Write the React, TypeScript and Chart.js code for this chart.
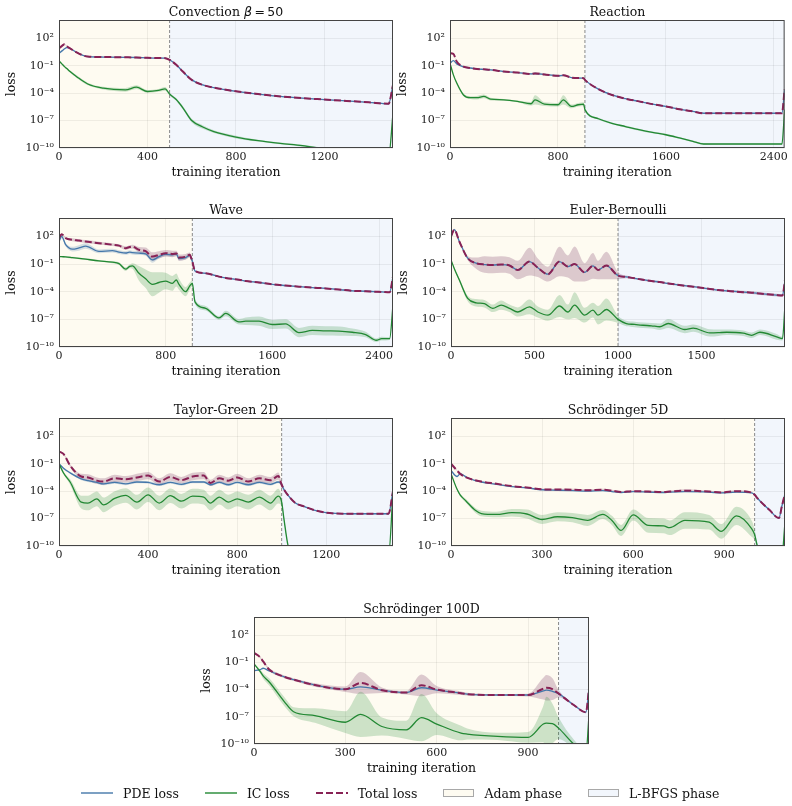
import React, { useEffect, useRef } from 'react';
import { Chart, registerables } from 'chart.js';
Chart.register(...registerables);

const SERIF = "'DejaVu Serif', 'Liberation Serif', serif";
const SANS = "'DejaVu Sans', 'Noto Sans', sans-serif";

// ---------------- data (log10 of loss) ----------------
const convIter = [0, 15, 25, 35, 50, 80, 130, 200, 300, 350, 400, 450, 480, 500, 530, 560, 600, 650, 700, 800, 900, 1000, 1100, 1200, 1300, 1400, 1490, 1510];
const convTotal = [0.9, 1.2, 1.35, 1.15, 0.9, 0.45, 0.0, -0.05, -0.08, -0.1, -0.14, -0.16, -0.17, -0.35, -0.9, -1.64, -2.55, -3.1, -3.4, -3.8, -4.1, -4.36, -4.55, -4.7, -4.85, -5.0, -5.16, -3.1];
const convPde = [0.36, 0.65, 0.85, 0.98, 0.88, 0.45, 0.0, -0.05, -0.08, -0.1, -0.14, -0.16, -0.17, -0.35, -0.9, -1.64, -2.55, -3.1, -3.4, -3.8, -4.1, -4.36, -4.55, -4.7, -4.85, -5.0, -5.16, -3.1];
const convIc = [-0.47, -0.85, -1.1, -1.3, -1.64, -2.2, -3.0, -3.45, -3.64, -3.35, -3.82, -3.7, -3.53, -4.1, -4.7, -5.6, -7.0, -7.7, -8.2, -8.8, -9.2, -9.5, -9.75, -10.1, -10.4, -10.7, -11.0, -6.2];
const convTotalSpread = [0.05, 0.05, 0.05, 0.05, 0.05, 0.05, 0.05, 0.05, 0.05, 0.05, 0.05, 0.05, 0.05, 0.05, 0.05, 0.05, 0.05, 0.05, 0.05, 0.05, 0.05, 0.05, 0.05, 0.05, 0.05, 0.05, 0.05, 0.05];
const convIcSpread = [0.05, 0.08, 0.1, 0.1, 0.12, 0.15, 0.15, 0.15, 0.2, 0.2, 0.15, 0.15, 0.2, 0.15, 0.15, 0.2, 0.2, 0.2, 0.15, 0.15, 0.1, 0.1, 0.1, 0.1, 0.1, 0.1, 0.1, 0.1];

const reacIter = [0, 25, 50, 100, 150, 200, 250, 300, 400, 500, 600, 630, 700, 800, 840, 900, 950, 990, 1000, 1100, 1200, 1300, 1400, 1500, 1600, 1700, 1800, 1880, 2000, 2200, 2460, 2480];
const reacTotal = [0.36, 0.29, -0.55, -1.1, -1.25, -1.35, -1.4, -1.45, -1.64, -1.75, -1.9, -1.85, -1.95, -2.1, -2.05, -2.3, -2.35, -2.36, -2.55, -3.56, -4.2, -4.6, -4.9, -5.2, -5.45, -5.75, -6.0, -6.2, -6.2, -6.2, -6.2, -3.6];
const reacPde = [-0.73, -0.45, -0.8, -1.12, -1.25, -1.35, -1.4, -1.45, -1.64, -1.75, -1.9, -1.85, -1.95, -2.1, -2.05, -2.3, -2.35, -2.36, -2.55, -3.56, -4.2, -4.6, -4.9, -5.2, -5.45, -5.75, -6.0, -6.2, -6.2, -6.2, -6.2, -3.6];
const reacIc = [-0.73, -2.0, -2.9, -4.2, -4.5, -4.5, -4.36, -4.65, -4.73, -4.9, -5.16, -4.73, -5.2, -5.27, -4.73, -5.45, -5.27, -5.2, -5.8, -6.8, -7.3, -7.65, -8.0, -8.3, -8.55, -8.9, -9.27, -9.56, -9.56, -9.56, -9.56, -5.8];
const reacTotalSpread = [0.05, 0.05, 0.05, 0.05, 0.05, 0.05, 0.05, 0.05, 0.05, 0.05, 0.08, 0.15, 0.08, 0.08, 0.1, 0.06, 0.06, 0.05, 0.05, 0.05, 0.05, 0.05, 0.05, 0.05, 0.05, 0.05, 0.05, 0.05, 0.05, 0.05, 0.05, 0.05];
const reacIcSpread = [0.05, 0.1, 0.15, 0.15, 0.15, 0.2, 0.2, 0.15, 0.1, 0.1, 0.2, 0.5, 0.2, 0.2, 0.5, 0.2, 0.2, 0.2, 0.15, 0.1, 0.1, 0.1, 0.1, 0.1, 0.1, 0.1, 0.1, 0.1, 0.05, 0.05, 0.05, 0.05];

const waveIter = [0, 20, 50, 100, 150, 200, 300, 400, 450, 500, 530, 550, 600, 650, 700, 750, 800, 850, 880, 900, 950, 980, 1000, 1020, 1100, 1200, 1250, 1350, 1400, 1500, 1600, 1700, 1800, 1900, 2000, 2100, 2200, 2300, 2380, 2420, 2480, 2505];
const waveTotal = [1.82, 2.25, 1.82, 1.64, 1.55, 1.45, 1.27, 1.1, 1.0, 0.73, 0.85, 0.9, 0.55, 0.4, -0.18, 0.0, 0.18, 0.1, 0.15, -0.3, -0.2, 0.0, -0.73, -1.75, -2.0, -2.36, -2.5, -2.7, -2.84, -3.0, -3.2, -3.33, -3.45, -3.55, -3.64, -3.77, -3.9, -3.95, -4.0, -4.02, -4.07, -2.36];
const wavePde = [1.45, 2.0, 1.1, 0.62, 0.75, 0.95, 0.38, 0.45, 0.3, 0.2, 0.3, 0.25, 0.18, 0.1, -0.55, -0.2, 0.05, 0.0, 0.1, -0.4, -0.3, -0.05, -0.73, -1.75, -2.0, -2.36, -2.5, -2.7, -2.84, -3.0, -3.2, -3.33, -3.45, -3.55, -3.64, -3.77, -3.9, -3.95, -4.0, -4.02, -4.07, -2.36];
const waveIc = [-0.18, -0.2, -0.22, -0.3, -0.38, -0.47, -0.65, -0.8, -0.95, -1.55, -1.25, -1.2, -2.0, -2.6, -3.2, -3.0, -2.84, -3.1, -2.73, -3.2, -4.0, -3.4, -3.1, -5.1, -5.8, -6.84, -6.36, -7.27, -7.2, -7.2, -7.56, -7.5, -8.44, -8.2, -8.25, -8.27, -8.4, -8.65, -9.27, -9.1, -9.1, -5.45];
const waveTotalSpread = [0.1, 0.1, 0.1, 0.15, 0.15, 0.15, 0.15, 0.15, 0.15, 0.2, 0.2, 0.2, 0.3, 0.4, 0.45, 0.4, 0.35, 0.35, 0.3, 0.35, 0.3, 0.25, 0.1, 0.05, 0.05, 0.05, 0.05, 0.05, 0.05, 0.05, 0.05, 0.05, 0.05, 0.05, 0.05, 0.05, 0.05, 0.05, 0.05, 0.05, 0.05, 0.05];
const wavePdeSpread = [0.1, 0.2, 0.2, 0.25, 0.3, 0.3, 0.2, 0.2, 0.2, 0.2, 0.2, 0.2, 0.2, 0.2, 0.3, 0.2, 0.2, 0.2, 0.2, 0.2, 0.2, 0.2, 0.1, 0.05, 0.05, 0.05, 0.05, 0.05, 0.05, 0.05, 0.05, 0.05, 0.05, 0.05, 0.05, 0.05, 0.05, 0.05, 0.05, 0.05, 0.05, 0.05];
const waveIcSpread = [0.05, 0.05, 0.1, 0.1, 0.1, 0.1, 0.1, 0.1, 0.15, 0.2, 0.2, 0.3, 0.8, 1.0, 1.3, 1.1, 0.9, 0.8, 0.7, 0.6, 0.5, 0.4, 0.3, 0.25, 0.25, 0.2, 0.3, 0.3, 0.4, 0.5, 0.5, 0.5, 0.5, 0.5, 0.5, 0.5, 0.4, 0.3, 0.2, 0.2, 0.15, 0.1];

const eulerIter = [0, 20, 50, 100, 150, 200, 250, 300, 350, 400, 470, 520, 580, 650, 700, 740, 800, 850, 880, 930, 1000, 1050, 1100, 1150, 1200, 1250, 1300, 1400, 1450, 1550, 1600, 1650, 1750, 1800, 1850, 1950, 1985, 2000];
const eulerTotal = [2.0, 2.73, 1.45, -0.36, -0.9, -1.05, -1.1, -1.05, -1.15, -1.64, -0.73, -1.4, -2.1, -0.73, -1.27, -1.0, -1.9, -1.2, -1.64, -1.16, -2.25, -2.4, -2.55, -2.7, -2.84, -2.95, -3.1, -3.35, -3.45, -3.7, -3.82, -3.9, -4.05, -4.1, -4.2, -4.36, -4.4, -2.73];
const eulerPde = [2.0, 2.73, 1.45, -0.36, -0.9, -1.05, -1.1, -1.05, -1.15, -1.64, -0.73, -1.4, -2.1, -0.73, -1.27, -1.0, -1.9, -1.2, -1.64, -1.16, -2.25, -2.4, -2.55, -2.7, -2.84, -2.95, -3.1, -3.35, -3.45, -3.7, -3.82, -3.9, -4.05, -4.1, -4.2, -4.36, -4.4, -2.73];
const eulerIc = [-0.55, -1.5, -2.73, -4.73, -5.2, -5.3, -5.8, -5.45, -5.8, -6.2, -5.64, -6.2, -6.55, -5.55, -6.2, -5.45, -6.55, -6.0, -6.55, -5.93, -7.0, -7.45, -7.55, -7.64, -7.7, -7.8, -7.45, -8.1, -7.95, -8.47, -8.45, -8.4, -8.5, -8.73, -8.4, -8.9, -9.1, -5.45];
const eulerTotalSpread = [0.05, 0.1, 0.1, 0.2, 0.6, 0.9, 0.9, 0.9, 0.9, 1.0, 1.5, 1.0, 0.8, 1.6, 1.2, 1.9, 1.0, 1.4, 1.0, 1.5, 0.4, 0.15, 0.1, 0.1, 0.1, 0.1, 0.1, 0.1, 0.1, 0.1, 0.1, 0.1, 0.15, 0.15, 0.15, 0.15, 0.15, 0.1];
const eulerIcSpread = [0.05, 0.1, 0.2, 0.3, 0.4, 0.4, 0.4, 0.5, 0.4, 0.5, 0.8, 0.6, 0.6, 1.2, 0.8, 1.4, 0.8, 0.8, 1.0, 1.2, 0.4, 0.3, 0.3, 0.3, 0.3, 0.35, 0.5, 0.4, 0.4, 0.4, 0.35, 0.3, 0.3, 0.3, 0.3, 0.3, 0.2, 0.1];

const tgIter = [0, 20, 50, 100, 130, 170, 200, 250, 300, 350, 400, 450, 500, 550, 600, 650, 680, 720, 760, 800, 850, 900, 950, 985, 1000, 1010, 1030, 1060, 1100, 1150, 1200, 1300, 1480, 1500];
const tgTotal = [0.33, 0.07, -1.2, -2.4, -2.5, -2.85, -2.95, -2.6, -2.7, -2.5, -2.3, -2.95, -2.45, -2.8, -2.4, -2.3, -3.1, -2.6, -2.85, -2.5, -2.95, -2.6, -2.8, -2.35, -3.3, -3.8, -4.5, -5.27, -5.67, -6.1, -6.36, -6.47, -6.47, -4.0];
const tgPde = [-1.0, -1.5, -2.0, -2.65, -2.85, -3.05, -3.2, -3.05, -3.2, -3.0, -3.05, -3.3, -3.05, -3.25, -3.0, -3.0, -3.3, -3.05, -3.3, -3.05, -3.3, -3.05, -3.25, -3.0, -3.3, -3.8, -4.5, -5.27, -5.67, -6.1, -6.36, -6.47, -6.47, -4.0];
const tgIc = [-1.0, -2.0, -3.0, -5.2, -5.3, -4.84, -5.5, -4.8, -4.47, -5.2, -4.4, -5.3, -4.5, -5.1, -4.55, -4.65, -5.3, -4.65, -5.2, -4.84, -5.2, -4.65, -5.3, -4.55, -5.2, -7.0, -10.1, -11, -11, -11, -11, -11, -11, -4.1];
const tgTotalSpread = [0.05, 0.1, 0.15, 0.3, 0.35, 0.35, 0.35, 0.4, 0.35, 0.4, 0.4, 0.35, 0.4, 0.35, 0.4, 0.4, 0.35, 0.4, 0.35, 0.4, 0.35, 0.4, 0.35, 0.4, 0.3, 0.1, 0.05, 0.05, 0.05, 0.05, 0.05, 0.05, 0.05, 0.05];
const tgPdeSpread = [0.05, 0.1, 0.1, 0.15, 0.15, 0.15, 0.15, 0.15, 0.15, 0.15, 0.15, 0.15, 0.15, 0.15, 0.15, 0.15, 0.15, 0.15, 0.15, 0.15, 0.15, 0.15, 0.15, 0.15, 0.1, 0.05, 0.05, 0.05, 0.05, 0.05, 0.05, 0.05, 0.05, 0.05];
const tgIcSpread = [0.05, 0.1, 0.3, 0.7, 0.8, 0.8, 0.8, 0.8, 0.8, 0.8, 0.8, 0.8, 0.8, 0.8, 0.8, 0.8, 0.8, 0.8, 0.8, 0.8, 0.8, 0.8, 0.8, 0.8, 0.5, 0.3, 0.1, 0.1, 0.1, 0.1, 0.1, 0.1, 0.1, 0.1];

const s5Iter = [0, 20, 30, 50, 80, 100, 150, 200, 250, 300, 350, 400, 450, 500, 530, 560, 600, 650, 700, 720, 770, 850, 890, 940, 990, 1000, 1010, 1050, 1080, 1090, 1100];
const s5Total = [-1.0, -1.75, -2.1, -2.5, -2.8, -2.95, -3.2, -3.45, -3.6, -3.8, -3.82, -3.85, -3.9, -3.85, -3.95, -4.1, -4.0, -4.05, -4.1, -4.05, -3.95, -4.05, -4.15, -4.0, -4.15, -4.4, -4.8, -6.1, -6.95, -5.6, -4.3];
const s5Pde = [-1.75, -2.4, -2.1, -2.45, -2.85, -3.0, -3.25, -3.5, -3.65, -3.85, -3.9, -3.95, -4.0, -3.95, -4.05, -4.15, -4.05, -4.1, -4.15, -4.1, -4.05, -4.1, -4.2, -4.1, -4.2, -4.4, -4.8, -6.1, -6.95, -5.6, -4.3];
const s5Ic = [-2.1, -3.8, -4.4, -5.1, -6.1, -6.45, -6.55, -6.36, -6.5, -7.1, -6.8, -6.9, -7.2, -6.55, -7.2, -8.3, -6.6, -7.75, -7.8, -8.0, -7.2, -7.4, -8.4, -6.7, -8.1, -8.76, -10.1, -11, -11, -11, -7.4];
const s5TotalSpread = [0.05, 0.05, 0.05, 0.05, 0.05, 0.05, 0.05, 0.05, 0.05, 0.08, 0.08, 0.1, 0.1, 0.1, 0.1, 0.1, 0.1, 0.1, 0.1, 0.1, 0.15, 0.1, 0.1, 0.1, 0.08, 0.05, 0.05, 0.05, 0.05, 0.05, 0.05];
const s5IcSpread = [0.05, 0.1, 0.15, 0.2, 0.25, 0.3, 0.3, 0.4, 0.5, 0.5, 0.5, 0.5, 0.6, 0.5, 0.5, 0.6, 0.6, 0.8, 0.8, 0.8, 0.9, 0.8, 0.8, 1.0, 0.9, 0.6, 0.3, 0.2, 0.2, 0.2, 0.2];

const s100Iter = [0, 20, 30, 50, 100, 130, 200, 300, 350, 420, 500, 550, 600, 680, 700, 800, 900, 950, 960, 980, 1000, 1050, 1090, 1100];
const s100Total = [0.04, -0.44, -0.9, -1.78, -2.6, -2.9, -3.5, -3.96, -3.27, -4.07, -4.33, -3.53, -4.0, -4.4, -4.5, -4.6, -4.6, -3.9, -3.8, -3.95, -4.44, -5.7, -6.5, -3.9];
const s100Pde = [-1.9, -1.8, -1.65, -1.95, -2.6, -2.9, -3.5, -3.96, -3.7, -4.07, -4.33, -3.8, -4.05, -4.4, -4.5, -4.6, -4.6, -4.15, -4.07, -4.2, -4.44, -5.7, -6.5, -3.9];
const s100Ic = [-1.16, -2.0, -2.5, -3.16, -5.35, -6.44, -6.87, -7.6, -6.73, -8.07, -8.44, -7.1, -7.8, -8.8, -8.9, -9.16, -9.27, -7.8, -7.7, -7.75, -8.25, -10.0, -11, -6.87];
const s100TotalSpread = [0.05, 0.1, 0.1, 0.15, 0.15, 0.15, 0.2, 0.3, 1.2, 0.3, 0.2, 1.2, 0.4, 0.2, 0.15, 0.1, 0.15, 1.2, 1.4, 1.2, 0.4, 0.1, 0.1, 0.1];
const s100IcSpread = [0.05, 0.2, 0.3, 0.4, 0.5, 0.5, 0.8, 1.2, 2.5, 1.0, 1.0, 2.6, 1.2, 0.8, 0.6, 0.4, 0.6, 2.0, 2.9, 2.2, 1.2, 0.5, 0.3, 0.3];

const yTicks = [1e-10, 1e-7, 1e-4, 1e-1, 1e2];
const ticks400 = [0, 400, 800, 1200];
const ticks800 = [0, 800, 1600, 2400];
const ticks500 = [0, 500, 1000, 1500];
const ticks300 = [0, 300, 600, 900];

// ---------------- styles ----------------
const C_PDE = '#4477AA';
const C_IC = '#228833';
const C_TOTAL = '#882255';
const B_PDE = 'rgba(68,119,170,0.22)';
const B_IC = 'rgba(34,136,51,0.22)';
const B_TOTAL = 'rgba(120,50,100,0.25)';
const ADAM_BG = '#FEFBF1';
const LBFGS_BG = '#F2F6FC';

const SUP: Record<string, string> = { '-': '\u207B', '0': '\u2070', '1': '\u00B9', '2': '\u00B2', '3': '\u00B3', '4': '\u2074', '5': '\u2075', '6': '\u2076', '7': '\u2077', '8': '\u2078', '9': '\u2079' };
function fmtPow(v: number) {
  const e = Math.round(Math.log10(v));
  return '10' + String(e).split('').map((c) => SUP[c] || c).join('');
}

type Seg = { text: string; italic?: boolean; sans?: boolean };
interface PanelDef {
  title: Seg[];
  iter: number[];
  pde: number[];
  ic: number[];
  total: number[];
  pdeSpread?: number[];
  icSpread: number[];
  totalSpread: number[];
  xMax: number;
  boundary: number;
  xTicks: number[];
  left: number;
  top: number;
  width: number;
  height: number;
}

const panels: PanelDef[] = [
  { title: [{ text: 'Convection ' }, { text: '\u03B2', italic: true, sans: true }, { text: '\u2009=\u200950', sans: true }], iter: convIter, pde: convPde, ic: convIc, total: convTotal, icSpread: convIcSpread, totalSpread: convTotalSpread, xMax: 1510, boundary: 500, xTicks: ticks400, left: 59, top: 20, width: 334, height: 128 },
  { title: [{ text: 'Reaction' }], iter: reacIter, pde: reacPde, ic: reacIc, total: reacTotal, icSpread: reacIcSpread, totalSpread: reacTotalSpread, xMax: 2480, boundary: 1000, xTicks: ticks800, left: 450, top: 20, width: 336, height: 128 },
  { title: [{ text: 'Wave' }], iter: waveIter, pde: wavePde, ic: waveIc, total: waveTotal, pdeSpread: wavePdeSpread, icSpread: waveIcSpread, totalSpread: waveTotalSpread, xMax: 2505, boundary: 1000, xTicks: ticks800, left: 59, top: 218, width: 334, height: 129 },
  { title: [{ text: 'Euler-Bernoulli' }], iter: eulerIter, pde: eulerPde, ic: eulerIc, total: eulerTotal, icSpread: eulerIcSpread, totalSpread: eulerTotalSpread, xMax: 2000, boundary: 1000, xTicks: ticks500, left: 451, top: 218, width: 334, height: 129 },
  { title: [{ text: 'Taylor-Green 2D' }], iter: tgIter, pde: tgPde, ic: tgIc, total: tgTotal, pdeSpread: tgPdeSpread, icSpread: tgIcSpread, totalSpread: tgTotalSpread, xMax: 1500, boundary: 1000, xTicks: ticks400, left: 59, top: 418, width: 334, height: 128 },
  { title: [{ text: 'Schr\u00F6dinger 5D' }], iter: s5Iter, pde: s5Pde, ic: s5Ic, total: s5Total, icSpread: s5IcSpread, totalSpread: s5TotalSpread, xMax: 1100, boundary: 1000, xTicks: ticks300, left: 451, top: 418, width: 334, height: 128 },
  { title: [{ text: 'Schr\u00F6dinger 100D' }], iter: s100Iter, pde: s100Pde, ic: s100Ic, total: s100Total, icSpread: s100IcSpread, totalSpread: s100TotalSpread, xMax: 1100, boundary: 1000, xTicks: ticks300, left: 254, top: 617, width: 335, height: 127 },
];

const PAD_L = 59;
const PAD_T = 20;
const PAD_R = 5;
const AX_H = 44;

function PanelChart({ p }: { p: PanelDef }) {
  const ref = useRef<HTMLCanvasElement>(null);
  useEffect(() => {
    if (!ref.current) return;
    const pts = (vals: number[], off?: number[], sign = 0) =>
      p.iter.map((x, i) => ({ x, y: Math.pow(10, vals[i] + (off ? sign * off[i] : 0)) }));
    const bandDs = (vals: number[], spread: number[], color: string, order: number) => [
      { data: pts(vals, spread, 1), fill: '+1', backgroundColor: color, borderWidth: 0, borderColor: 'transparent', pointRadius: 0, cubicInterpolationMode: 'monotone', order },
      { data: pts(vals, spread, -1), fill: false, backgroundColor: 'transparent', borderWidth: 0, borderColor: 'transparent', pointRadius: 0, cubicInterpolationMode: 'monotone', order: order + 1 },
    ];
    const datasets: any[] = [
      { label: 'Total loss', data: pts(p.total), borderColor: C_TOTAL, borderWidth: 2, borderDash: [7, 3], pointRadius: 0, fill: false, cubicInterpolationMode: 'monotone', order: 1 },
      { label: 'IC loss', data: pts(p.ic), borderColor: C_IC, borderWidth: 1.3, pointRadius: 0, fill: false, cubicInterpolationMode: 'monotone', order: 2 },
      { label: 'PDE loss', data: pts(p.pde), borderColor: C_PDE, borderWidth: 1.3, pointRadius: 0, fill: false, cubicInterpolationMode: 'monotone', order: 3 },
      ...bandDs(p.ic, p.icSpread, B_IC, 10),
      ...bandDs(p.total, p.totalSpread, B_TOTAL, 20),
    ];
    if (p.pdeSpread) datasets.push(...bandDs(p.pde, p.pdeSpread, B_PDE, 30));

    const phasePlugin = {
      id: 'phase',
      beforeDraw(chart: any) {
        const { ctx, chartArea: a } = chart;
        const bx = chart.scales.x.getPixelForValue(p.boundary);
        ctx.save();
        ctx.fillStyle = ADAM_BG;
        ctx.fillRect(a.left, a.top, bx - a.left, a.bottom - a.top);
        ctx.fillStyle = LBFGS_BG;
        ctx.fillRect(bx, a.top, a.right - bx, a.bottom - a.top);
        ctx.restore();
      },
      beforeDatasetsDraw(chart: any) {
        const { ctx, chartArea: a } = chart;
        const bx = chart.scales.x.getPixelForValue(p.boundary);
        ctx.save();
        ctx.strokeStyle = '#8a8a8a';
        ctx.lineWidth = 1;
        ctx.setLineDash([3, 2]);
        ctx.beginPath();
        ctx.moveTo(bx, a.top);
        ctx.lineTo(bx, a.bottom);
        ctx.stroke();
        ctx.restore();
      },
      afterDraw(chart: any) {
        const { ctx, chartArea: a } = chart;
        ctx.save();
        ctx.strokeStyle = '#444';
        ctx.lineWidth = 1;
        ctx.strokeRect(a.left + 0.5, a.top + 0.5, a.right - a.left - 1, a.bottom - a.top - 1);
        const fontFor = (s: Seg) => `${s.italic ? 'italic ' : ''}12.5px ${s.sans ? SANS : SERIF}`;
        let total = 0;
        const widths = p.title.map((s) => {
          ctx.font = fontFor(s);
          const w = ctx.measureText(s.text).width;
          total += w;
          return w;
        });
        let x = (a.left + a.right) / 2 - total / 2;
        ctx.fillStyle = '#111';
        ctx.textBaseline = 'alphabetic';
        ctx.textAlign = 'left';
        p.title.forEach((s, i) => {
          ctx.font = fontFor(s);
          ctx.fillText(s.text, x, a.top - 4);
          x += widths[i];
        });
        ctx.restore();
      },
    };

    const gridCfg = { color: 'rgba(0,0,0,0.08)', lineWidth: 0.8, drawTicks: false };
    const chart = new Chart(ref.current, {
      type: 'line',
      data: { datasets },
      options: {
        animation: false,
        responsive: false,
        maintainAspectRatio: false,
        layout: { padding: { left: 0, top: PAD_T, right: PAD_R, bottom: 0 } },
        plugins: { legend: { display: false }, title: { display: false }, tooltip: { enabled: false } },
        elements: { point: { radius: 0 } },
        scales: {
          x: {
            type: 'linear',
            min: 0,
            max: p.xMax,
            afterBuildTicks: (ax: any) => { ax.ticks = p.xTicks.map((v) => ({ value: v })); },
            afterFit: (ax: any) => { ax.height = AX_H; },
            grid: gridCfg,
            border: { display: false },
            ticks: { font: { family: SERIF, size: 11 }, color: '#222', padding: 3, maxRotation: 0, autoSkip: false, callback: (v: any) => String(v) },
            title: { display: true, text: 'training iteration', font: { family: SERIF, size: 12.5 }, color: '#111', padding: { top: 0, bottom: 11.5 } },
          },
          y: {
            type: 'logarithmic',
            min: 1e-10,
            max: 1e4,
            afterBuildTicks: (ax: any) => { ax.ticks = yTicks.map((v) => ({ value: v })); },
            afterFit: (ax: any) => { ax.width = PAD_L; },
            grid: gridCfg,
            border: { display: false },
            ticks: { font: { family: SERIF, size: 11 }, color: '#222', padding: 5, autoSkip: false, callback: (v: any) => fmtPow(Number(v)) },
            title: { display: true, text: 'loss', font: { family: SERIF, size: 12.5 }, color: '#111', padding: { top: 4.5, bottom: 0 } },
          },
        },
      } as any,
      plugins: [phasePlugin],
    });
    return () => chart.destroy();
  }, [p]);
  return (
    <canvas
      ref={ref}
      width={p.width + PAD_L + PAD_R}
      height={p.height + PAD_T + AX_H}
      style={{ position: 'absolute', left: p.left - PAD_L, top: p.top - PAD_T }}
    />
  );
}

function LineHandle({ color, dashed }: { color: string; dashed?: boolean }) {
  return (
    <svg width={32} height={12} style={{ marginRight: 10, display: 'block' }}>
      <line x1={0} y1={6} x2={32} y2={6} stroke={color} strokeWidth={dashed ? 2 : 1.4} strokeDasharray={dashed ? '7 3' : undefined} />
    </svg>
  );
}
function BoxHandle({ color }: { color: string }) {
  return (
    <svg width={31} height={12} style={{ marginRight: 10, display: 'block' }}>
      <rect x={0.5} y={2.5} width={30} height={7} fill={color} stroke="#a8a8a8" strokeWidth={1} />
    </svg>
  );
}

function Legend() {
  const item: React.CSSProperties = { display: 'flex', alignItems: 'center', marginRight: 26 };
  const txt: React.CSSProperties = { fontFamily: SERIF, fontSize: 12.5, color: '#111', whiteSpace: 'nowrap' };
  return (
    <div style={{ position: 'absolute', left: 81, top: 784, height: 18, display: 'flex', alignItems: 'center' }}>
      <div style={item}><LineHandle color={C_PDE} /><span style={txt}>PDE loss</span></div>
      <div style={item}><LineHandle color={C_IC} /><span style={txt}>IC loss</span></div>
      <div style={item}><LineHandle color={C_TOTAL} dashed /><span style={txt}>Total loss</span></div>
      <div style={item}><BoxHandle color={ADAM_BG} /><span style={txt}>Adam phase</span></div>
      <div style={{ ...item, marginRight: 0 }}><BoxHandle color={LBFGS_BG} /><span style={txt}>L-BFGS phase</span></div>
    </div>
  );
}

export default function App() {
  return (
    <div style={{ position: 'absolute', left: 0, top: 0, width: 792, height: 806, background: '#fff', overflow: 'hidden' }}>
      {panels.map((p, i) => (
        <PanelChart key={i} p={p} />
      ))}
      <Legend />
    </div>
  );
}
